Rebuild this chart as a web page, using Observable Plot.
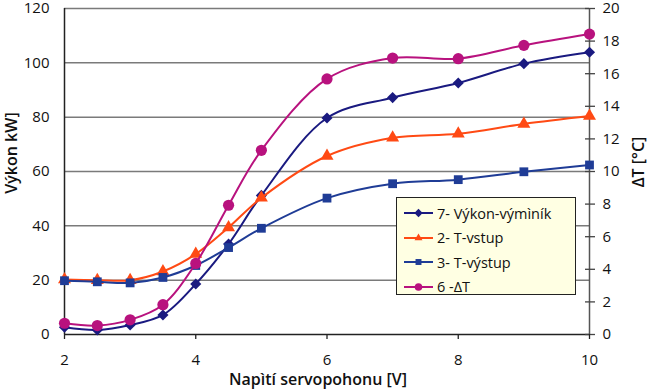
<!DOCTYPE html>
<html><head><meta charset="utf-8">
<script src="https://cdn.jsdelivr.net/npm/d3@7"></script>
<script src="https://cdn.jsdelivr.net/npm/@observablehq/plot@0.6"></script>
<style>
body{margin:0;background:#fff;}
#wrap{position:relative;width:650px;height:390px;font-family:"Open Sans",sans-serif;color:#111;}
.lab{position:absolute;font-weight:600;font-size:16px;white-space:nowrap;}
#legend{position:absolute;left:396px;top:197px;width:180px;height:98px;background:#FFFFE3;border:1.5px solid #222;box-sizing:border-box;padding-top:3px;}
.row{display:flex;align-items:center;height:24.5px;font-size:14.5px;}
.row svg{margin-left:7px;margin-right:4px;}
</style></head><body><div id="wrap"></div>
<script>
const voltage = [2, 2.5, 3, 3.5, 4, 4.5, 5, 6, 7, 8, 9, 10];
const vykon   = [2.7, 1.7, 3.5, 7.2, 18.6, 33.3, 51.2, 79.7, 87.2, 92.6, 99.7, 103.9];
const tVstup  = [20.2, 20.0, 20.0, 23.2, 29.6, 39.4, 50.3, 65.7, 72.4, 73.9, 77.5, 80.4];
const tVystup = [19.8, 19.4, 19.0, 21.0, 25.4, 32.0, 39.1, 50.2, 55.5, 57.0, 59.9, 62.4];
const deltaT  = [0.69, 0.55, 0.9, 1.83, 4.36, 7.93, 11.3, 15.68, 16.96, 16.92, 17.74, 18.43];
const leftTicks = [0, 20, 40, 60, 80, 100, 120];
const rightTicks = [0, 2, 4, 6, 8, 10, 12, 14, 16, 18, 20];
const xTicks = [2, 4, 6, 8, 10];
const seriesNames = ["7- Výkon-výmìník", "2- T-vstup", "3- T-výstup", "6 -ΔT"];
const colors = ["#1A1A80", "#FF4A14", "#1F3C96", "#B8127E"];
const symbols = ["diamond2", "triangle2", "square2", "circle"];
const radii = [5, 6.2, 5.6, 5.6];

const ratio = 120 / 20; // right axis (°C) to left axis (kW)
const rows = (vals, k) => voltage.map((x, i) => ({x, y: vals[i], k}));
const data = [
  rows(vykon, 0),
  rows(tVstup, 1),
  rows(tVystup, 2),
  rows(deltaT.map(v => v * ratio), 3)
];

const marks = [
  Plot.ruleY(leftTicks.slice(1), {stroke: "#7a7a7a", strokeWidth: 1.5}),
  Plot.ruleX([10], {stroke: "#555", strokeWidth: 1.5}),
  Plot.ruleY([0], {stroke: "#222", strokeWidth: 1.5}),
  Plot.ruleX([2], {stroke: "#222", strokeWidth: 1.5}),
  Plot.axisY({ticks: leftTicks, tickSize: 0, tickPadding: 15, fontSize: 15, label: null}),
  Plot.axisY({anchor: "right", ticks: rightTicks.map(d => d * ratio), tickSize: 10, dx: -5, tickFormat: () => "", label: null, stroke: "#444", strokeWidth: 1.3}),
  Plot.axisY({anchor: "right", ticks: rightTicks.map(d => d * ratio), tickSize: 0, tickPadding: 13, tickFormat: d => Math.round(d / ratio), fontSize: 15, label: null}),
  Plot.axisX({ticks: xTicks, tickSize: 5, tickPadding: 15, fontSize: 15, label: null, stroke: "#222", strokeWidth: 1.3})
];
data.forEach((d, k) => {
  marks.push(Plot.line(d, {x: "x", y: "y", stroke: colors[k], strokeWidth: 2, curve: "catmull-rom"}));
  marks.push(Plot.dot(d, {x: "x", y: "y", fill: colors[k], symbol: () => symbols[k], r: radii[k]}));
});

const chart = Plot.plot({
  width: 650, height: 390,
  marginLeft: 64, marginRight: 61, marginTop: 8, marginBottom: 56,
  x: {domain: [2, 10]},
  y: {domain: [0, 120]},
  style: {fontFamily: "'Open Sans', sans-serif", fontSize: "15px", color: "#111", background: "#fff", overflow: "visible"},
  marks
});
const wrap = document.getElementById("wrap");
wrap.appendChild(chart);

function label(text, css) {
  const d = document.createElement("div");
  d.className = "lab";
  d.textContent = text;
  Object.assign(d.style, css);
  wrap.appendChild(d);
}
label("Napìtí servopohonu [V]", {left: "318px", top: "368px", transform: "translateX(-50%)"});
label("Výkon kW]", {left: "11px", top: "153px", transform: "translate(-50%,-50%) rotate(-90deg)"});
label("ΔT [°C]", {left: "638px", top: "162px", transform: "translate(-50%,-50%) rotate(-90deg)"});

const legend = document.createElement("div");
legend.id = "legend";
seriesNames.forEach((name, k) => {
  const row = document.createElement("div");
  row.className = "row";
  const svg = d3.create("svg").attr("width", 29).attr("height", 14);
  svg.append("line").attr("x1", 0).attr("x2", 29).attr("y1", 7).attr("y2", 7).attr("stroke", colors[k]).attr("stroke-width", 2);
  const sym = {diamond2: d3.symbolDiamond2, triangle2: d3.symbolTriangle2, square2: d3.symbolSquare2, circle: d3.symbolCircle}[symbols[k]];
  svg.append("path").attr("transform", "translate(14.5,7)").attr("d", d3.symbol(sym, 45)).attr("fill", colors[k]);
  row.appendChild(svg.node());
  const t = document.createElement("span");
  t.textContent = name;
  row.appendChild(t);
  legend.appendChild(row);
});
wrap.appendChild(legend);
</script></body></html>
